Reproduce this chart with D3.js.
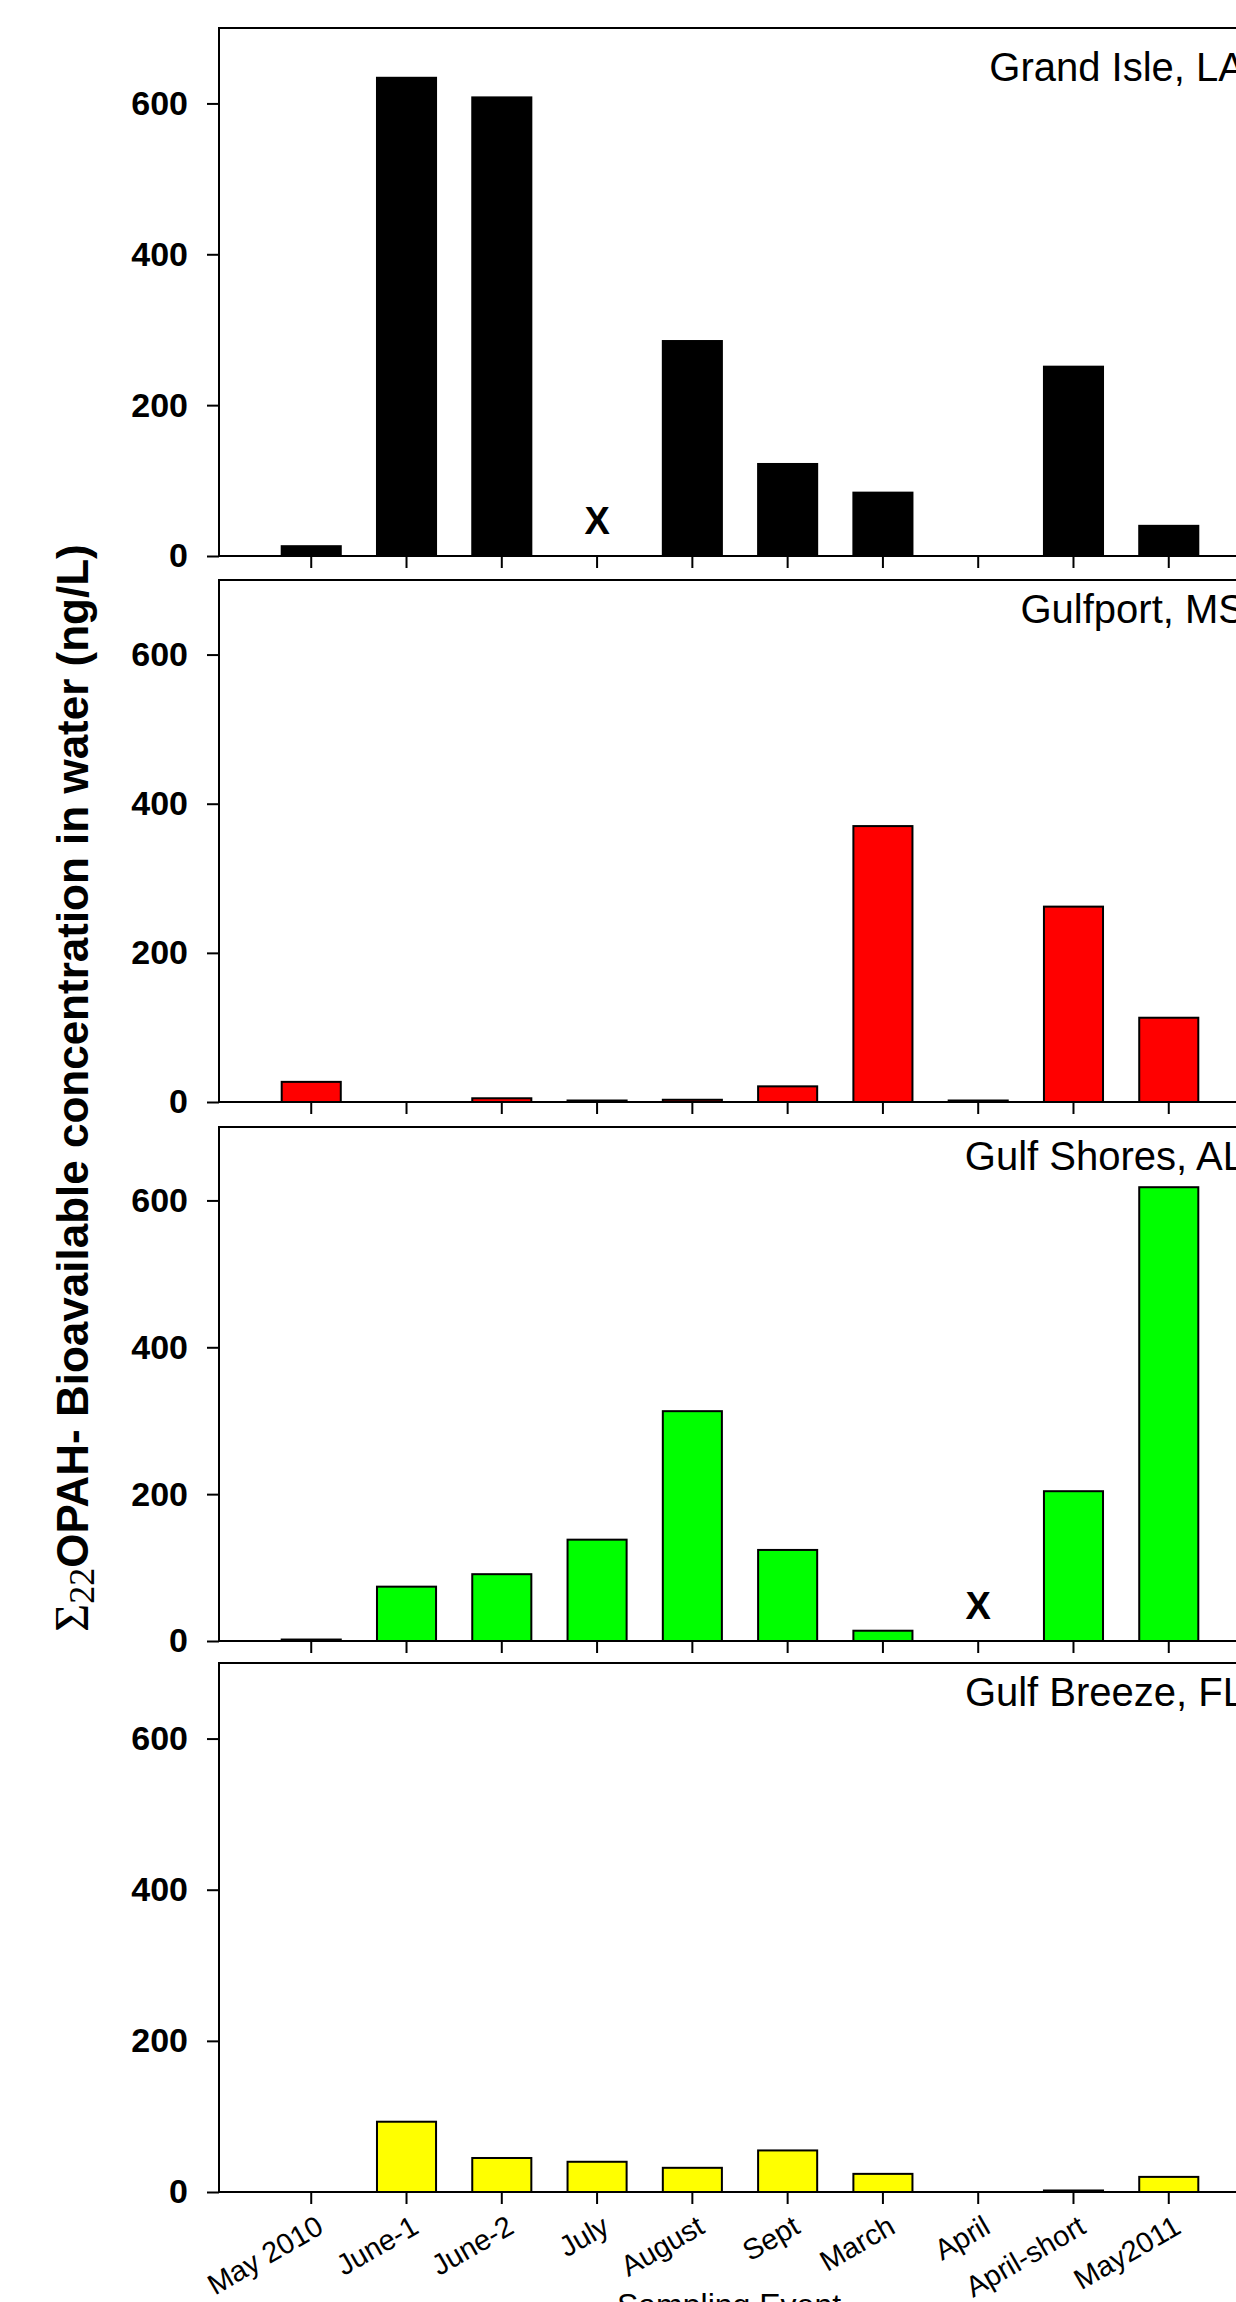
<!DOCTYPE html>
<html>
<head>
<meta charset="utf-8">
<script src="https://cdn.jsdelivr.net/npm/d3@7"></script>
<style>
  body { margin: 0; background: #fff; }
  svg { display: block; }
</style>
</head>
<body>
<div id="chart-area"></div>
<script>
// sampling events (x categories)
var events = ["May 2010", "June-1", "June-2", "July", "August", "Sept", "March", "April", "April-short", "May2011"];
var sites = ["Grand Isle, LA", "Gulfport, MS", "Gulf Shores, AL", "Gulf Breeze, FL"];

// ng/L per event, null = not sampled (drawn as X)
var grandIsle  = [13, 634, 608, null, 285, 122, 84, 0, 251, 40];
var gulfport   = [27, 0, 5, 2, 3, 21, 370, 2, 262, 113];
var gulfShores = [2, 74, 91, 138, 313, 124, 14, null, 204, 618];
var gulfBreeze = [0, 93, 45, 40, 32, 55, 24, 0, 2, 20];

var yTicks = [0, 200, 400, 600];
var yMax = 700;

var series = [grandIsle, gulfport, gulfShores, gulfBreeze];
var colors = ["#000000", "#ff0000", "#00ff00", "#ffff00"];

var width = 1236, height = 2302;
var plotLeft = 219, plotRight = 1261;
var panelTop = [28, 580, 1127, 1663];
var panelBottom = [556, 1102, 1641, 2192];
var titleDy = [53, 43, 43, 43];

var sans = "'Liberation Sans', Arial, sans-serif";
var serif = "'Liberation Serif', 'Times New Roman', serif";

var svg = d3.select("#chart-area")
    .append("svg")
    .attr("width", width)
    .attr("height", height);

svg.append("rect").attr("width", width).attr("height", height).attr("fill", "#fff");

var x = d3.scaleBand()
    .domain(events)
    .range([plotLeft, plotRight])
    .paddingInner(0.38)
    .paddingOuter(0.658);

series.forEach(function(vals, i) {
    var y = d3.scaleLinear()
        .domain([0, yMax])
        .range([panelBottom[i], panelTop[i]]);

    var g = svg.append("g").attr("class", "panel");

    var rows = events.map(function(e, j) { return {event: e, value: vals[j]}; });

    g.selectAll("rect.bar")
        .data(rows.filter(function(d) { return d.value > 0; }))
        .enter().append("rect")
        .attr("class", "bar")
        .attr("x", function(d) { return x(d.event); })
        .attr("width", x.bandwidth())
        .attr("y", function(d) { return y(d.value); })
        .attr("height", function(d) { return y(0) - y(d.value); })
        .attr("fill", colors[i])
        .attr("stroke", "#000")
        .attr("stroke-width", 2);

    // missing samples
    g.selectAll("text.miss")
        .data(rows.filter(function(d) { return d.value === null; }))
        .enter().append("text")
        .attr("class", "miss")
        .attr("x", function(d) { return x(d.event) + x.bandwidth() / 2; })
        .attr("y", y(0) - 22)
        .attr("text-anchor", "middle")
        .attr("font-family", sans)
        .attr("font-weight", "bold")
        .attr("font-size", "38px")
        .text("X");

    // frame
    g.append("rect")
        .attr("x", plotLeft)
        .attr("y", panelTop[i])
        .attr("width", plotRight - plotLeft)
        .attr("height", panelBottom[i] - panelTop[i])
        .attr("fill", "none")
        .attr("stroke", "#000")
        .attr("stroke-width", 2);

    var yAxis = g.append("g")
        .attr("transform", "translate(" + plotLeft + ",0)")
        .call(d3.axisLeft(y).tickValues(yTicks).tickSize(12).tickPadding(19));
    yAxis.select(".domain").remove();
    yAxis.selectAll("line").attr("stroke-width", 2);
    yAxis.selectAll("text")
        .attr("font-family", sans)
        .attr("font-weight", "bold")
        .attr("font-size", "34px")
        .attr("fill", "#000");

    var xAxisCall = d3.axisBottom(x).tickSize(12);
    if (i < series.length - 1) xAxisCall.tickFormat("");
    var xAxis = g.append("g")
        .attr("transform", "translate(0," + panelBottom[i] + ")")
        .call(xAxisCall);
    xAxis.select(".domain").remove();
    xAxis.selectAll("line").attr("stroke-width", 2);
    if (i === series.length - 1) {
        xAxis.selectAll("text")
            .attr("x", 0).attr("y", 0).attr("dy", 0)
            .attr("text-anchor", "end")
            .attr("transform", "translate(14,40) rotate(-30)")
            .attr("font-family", sans)
            .attr("font-size", "29px")
            .attr("fill", "#000");
    }

    g.append("text")
        .attr("x", 1245)
        .attr("y", panelTop[i] + titleDy[i])
        .attr("text-anchor", "end")
        .attr("font-family", sans)
        .attr("font-size", "40px")
        .text(sites[i]);
});

// y-axis label
var yLabel = svg.append("text")
    .attr("transform", "translate(88,1088) rotate(-90)")
    .attr("text-anchor", "middle")
    .attr("font-family", sans)
    .attr("font-size", "44px")
    .attr("font-weight", "bold");
yLabel.append("tspan").attr("font-family", serif).attr("font-weight", "normal").attr("font-size", "48px").text("\u03A3");
yLabel.append("tspan").attr("font-family", serif).attr("font-weight", "normal").attr("font-size", "36px").attr("dy", 6).text("22");
yLabel.append("tspan").attr("dy", -6).text("OPAH- Bioavailable concentration in water (ng/L)");

// x-axis label
svg.append("text")
    .attr("x", 729)
    .attr("y", 2316)
    .attr("text-anchor", "middle")
    .attr("font-family", sans)
    .attr("font-size", "32px")
    .text("Sampling Event");
</script>
</body>
</html>
